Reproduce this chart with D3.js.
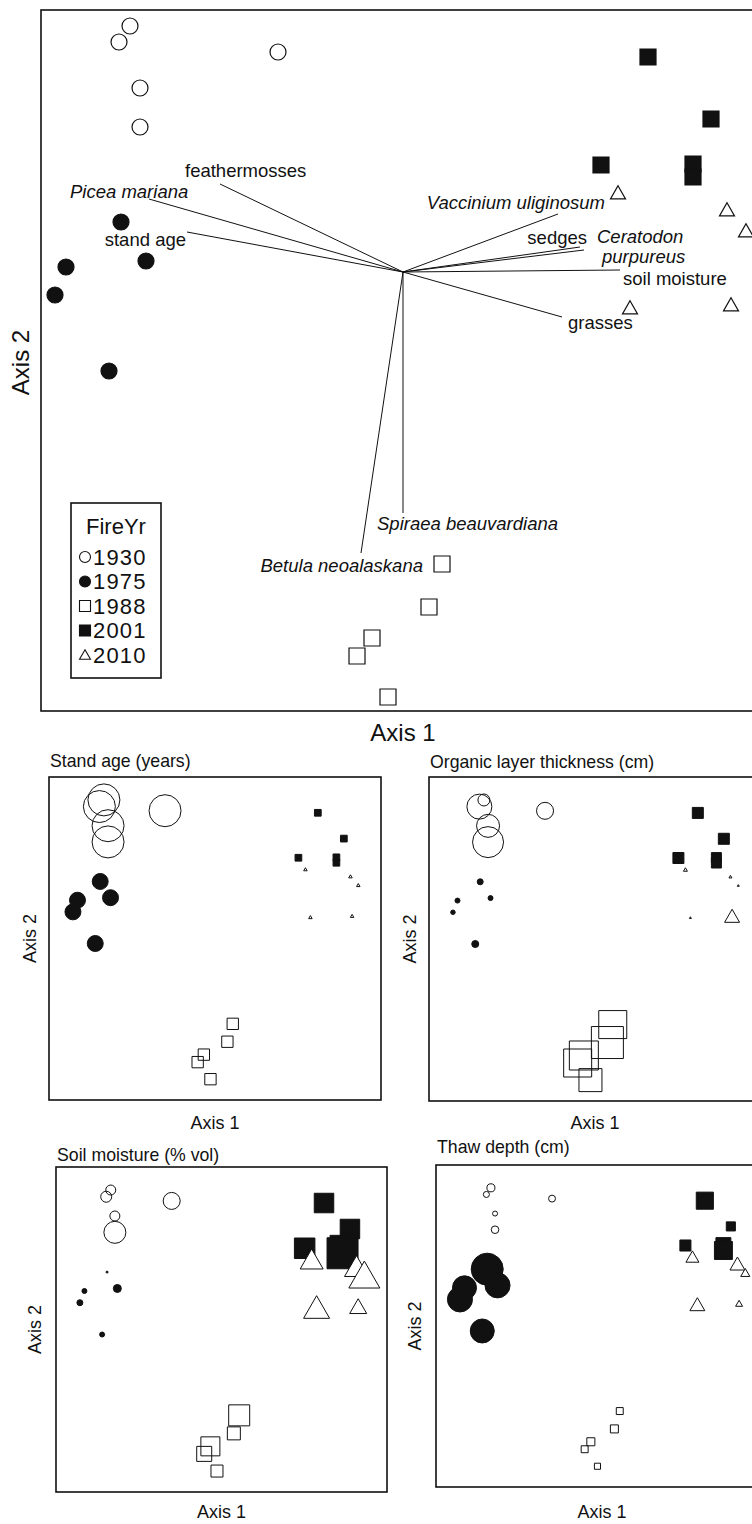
<!DOCTYPE html>
<html>
<head>
<meta charset="utf-8">
<script src="https://cdn.jsdelivr.net/npm/d3@7"></script>
<style>
  html, body { margin: 0; padding: 0; background: #fff; }
  svg { display: block; font-family: "Liberation Sans", Arial, Helvetica, sans-serif; }
</style>
</head>
<body>
<svg id="chart" width="752" height="1524"></svg>
<script>
// ---- Data -----------------------------------------------------------------

const fireYears = ["1930", "1975", "1988", "2001", "2010"];

// 25 plots, five per burn year
const plotFireYear = [
  "1930", "1930", "1930", "1930", "1930",
  "1975", "1975", "1975", "1975", "1975",
  "1988", "1988", "1988", "1988", "1988",
  "2001", "2001", "2001", "2001", "2001",
  "2010", "2010", "2010", "2010", "2010"
];

// NMS ordination scores of the plots
const axis1Scores = [
  -1.365, -1.42, -0.625, -1.315, -1.315,
  -1.41, -1.285, -1.685, -1.74, -1.47,
  0.195, 0.13, -0.155, -0.23, -0.075,
  1.225, 1.54, 0.99, 1.45, 1.45,
  1.075, 1.62, 1.715, 1.135, 1.64
];
const axis2Scores = [
  1.23, 1.15, 1.10, 0.92, 0.725,
  0.25, 0.055, 0.025, -0.115, -0.495,
  -1.46, -1.675, -1.83, -1.92, -2.125,
  1.075, 0.765, 0.535, 0.54, 0.475,
  0.395, 0.31, 0.205, -0.18, -0.165
];

// Joint-plot vectors (species and environmental variables)
const vectorNames = [
  "feathermosses", "Picea mariana", "stand age", "Vaccinium uliginosum",
  "sedges", "Ceratodon purpureus", "soil moisture", "grasses",
  "Spiraea beauvardiana", "Betula neoalaskana"
];
const vectorAxis1 = [-0.915, -1.27, -1.08, 0.775, 0.885, 0.905, 1.085, 0.795, 0.0, -0.21];
const vectorAxis2 = [0.44, 0.365, 0.20, 0.29, 0.125, 0.11, 0.01, -0.225, -1.205, -1.405];

// Plot-level environmental variables (same plot order as the scores)
const standAge = [
  82, 82, 82, 82, 82,
  37, 37, 37, 37, 37,
  24, 24, 24, 24, 24,
  11, 11, 11, 11, 11,
  2, 2, 2, 2, 2
];
const organicThickness = [
  12, 25, 17, 23, 31,
  6, 5, 5, 4.5, 7,
  28, 32, 29, 28, 23,
  11, 11, 11, 10, 10,
  4, 3, 2, 2, 15
];
const soilMoisture = [
  26, 28, 40, 26, 50,
  10, 22, 16, 18, 16,
  48, 32, 44, 36, 30,
  45, 45, 47, 56, 68,
  52, 54, 68, 58, 40
];
const thawDepth = [
  39, 30, 34, 25, 37,
  150, 118, 113, 118, 113,
  34, 39, 39, 34, 30,
  81, 44, 53, 71, 85,
  62, 71, 44, 71, 34
];

// ---- Drawing --------------------------------------------------------------

const svg = d3.select("#chart");
const ink = "#111";

const plots = plotFireYear.map((yr, i) => ({ yr, a1: axis1Scores[i], a2: axis2Scores[i], i }));

// symbol outline for a burn year, s = diameter / side / base width in px
function shapePath(yr, s) {
  const h = s / 2;
  if (yr === "1930" || yr === "1975") {
    return `M${h},0A${h},${h} 0 1,1 ${-h},0A${h},${h} 0 1,1 ${h},0Z`;
  }
  if (yr === "1988" || yr === "2001") {
    return `M${-h},${-h}H${h}V${h}H${-h}Z`;
  }
  const th = s * 0.87;
  return `M0,${-th * 0.55}L${h},${th * 0.45}L${-h},${th * 0.45}Z`;
}
const fillFor = { "1930": "none", "1975": ink, "1988": "none", "2001": ink, "2010": "#fff" };

// ---------- main ordination with joint plot ----------
const main = { left: 41, top: 10, right: 765, bottom: 711 };
const xMain = d3.scaleLinear().domain([-1.81, 1.81]).range([main.left, main.right]);
const yMain = d3.scaleLinear().domain([1.31, -2.195]).range([main.top, main.bottom]);

const gMain = svg.append("g");
gMain.append("rect")
  .attr("x", main.left).attr("y", main.top)
  .attr("width", main.right - main.left).attr("height", main.bottom - main.top)
  .attr("fill", "none").attr("stroke", ink).attr("stroke-width", 1.6);

const vectors = vectorNames.map((name, i) => ({ name, a1: vectorAxis1[i], a2: vectorAxis2[i] }));

gMain.selectAll("line.vec").data(vectors).join("line")
  .attr("class", "vec")
  .attr("x1", xMain(0)).attr("y1", yMain(0))
  .attr("x2", d => xMain(d.a1)).attr("y2", d => yMain(d.a2))
  .attr("stroke", ink).attr("stroke-width", 1);

const italicNames = new Set(["Picea mariana", "Vaccinium uliginosum", "Ceratodon purpureus",
  "Spiraea beauvardiana", "Betula neoalaskana"]);

// label offsets from each vector tip
const labelPlacement = {
  "feathermosses": { dx: -35, dy: -14, anchor: "start" },
  "Picea mariana": { dx: -79, dy: -8, anchor: "start" },
  "stand age": { dx: -1, dy: 7, anchor: "end" },
  "Vaccinium uliginosum": { dx: 47, dy: -12, anchor: "end" },
  "sedges": { dx: 7, dy: -10, anchor: "end" },
  "Ceratodon purpureus": { dx: 13, dy: -14, anchor: "start", lines: ["Ceratodon", "purpureus"], shift: [0, 5], lead: 20 },
  "soil moisture": { dx: 3, dy: 8, anchor: "start" },
  "grasses": { dx: 6, dy: 5, anchor: "start" },
  "Spiraea beauvardiana": { dx: -26, dy: 10, anchor: "start" },
  "Betula neoalaskana": { dx: 62, dy: 12, anchor: "end" }
};

vectors.forEach(v => {
  const p = labelPlacement[v.name];
  const x = xMain(v.a1) + p.dx, y = yMain(v.a2) + p.dy;
  const t = gMain.append("text")
    .attr("x", x).attr("y", y)
    .attr("text-anchor", p.anchor)
    .attr("dominant-baseline", "central")
    .attr("font-size", 18.5)
    .attr("font-style", italicNames.has(v.name) ? "italic" : "normal")
    .attr("fill", ink);
  if (p.lines) {
    p.lines.forEach((ln, k) => {
      t.append("tspan").attr("x", x + p.shift[k]).attr("y", y + k * p.lead).text(ln);
    });
  } else {
    t.text(v.name);
  }
});

gMain.selectAll("path.site").data(plots).join("path")
  .attr("class", "site")
  .attr("transform", d => `translate(${xMain(d.a1)},${yMain(d.a2)})`)
  .attr("d", d => shapePath(d.yr, d.yr === "2010" ? 15 : 16))
  .attr("fill", d => fillFor[d.yr])
  .attr("stroke", ink).attr("stroke-width", 1.2);

// axis titles
svg.append("text")
  .attr("x", (main.left + main.right) / 2).attr("y", 732)
  .attr("text-anchor", "middle").attr("dominant-baseline", "central")
  .attr("font-size", 24).attr("fill", ink).text("Axis 1");
svg.append("text")
  .attr("transform", `translate(20,${(main.top + main.bottom) / 2 + 2}) rotate(-90)`)
  .attr("text-anchor", "middle").attr("dominant-baseline", "central")
  .attr("font-size", 24).attr("fill", ink).text("Axis 2");

// legend
const legend = svg.append("g").attr("transform", "translate(71,503)");
legend.append("rect").attr("width", 90).attr("height", 175)
  .attr("fill", "#fff").attr("stroke", ink).attr("stroke-width", 1.6);
legend.append("text").attr("x", 45).attr("y", 23)
  .attr("text-anchor", "middle").attr("dominant-baseline", "central")
  .attr("font-size", 22).attr("fill", ink).text("FireYr");
const rows = legend.selectAll("g.row").data(fireYears).join("g")
  .attr("class", "row")
  .attr("transform", (d, i) => `translate(0,${54 + i * 24.5})`);
rows.append("path")
  .attr("transform", "translate(14,0)")
  .attr("d", d => shapePath(d, 11))
  .attr("fill", d => fillFor[d])
  .attr("stroke", ink).attr("stroke-width", 1.1);
rows.append("text")
  .attr("x", 22).attr("y", 0)
  .attr("dominant-baseline", "central")
  .attr("font-size", 22).attr("letter-spacing", 1.2).attr("fill", ink)
  .text(d => d);

// ---------- overlay panels: symbol size scaled by a plot variable ----------
const panels = [
  { title: "Stand age (years)", values: standAge, box: [49, 777, 332, 323], titleY: 767, axis1Y: 1123, axis2X: 30, sizes: [3.5, 32] },
  { title: "Organic layer thickness (cm)", values: organicThickness, box: [429, 777, 332, 324], titleY: 768, axis1Y: 1123, axis2X: 410, sizes: [2, 32] },
  { title: "Soil moisture (% vol)", values: soilMoisture, box: [56, 1167, 331, 325], titleY: 1161, axis1Y: 1512, axis2X: 35, sizes: [2, 31] },
  { title: "Thaw depth (cm)", values: thawDepth, box: [436, 1165, 332, 322], titleY: 1153, axis1Y: 1512, axis2X: 415, sizes: [5, 32] }
];

panels.forEach(pn => {
  const [bx, by, bw, bh] = pn.box;
  const x = d3.scaleLinear().domain([-2.03, 1.99]).range([bx, bx + bw]);
  const y = d3.scaleLinear().domain([1.505, -2.375]).range([by, by + bh]);
  const size = d3.scaleLinear().domain(d3.extent(pn.values)).range(pn.sizes);
  const g = svg.append("g");

  g.append("rect").attr("x", bx).attr("y", by).attr("width", bw).attr("height", bh)
    .attr("fill", "none").attr("stroke", ink).attr("stroke-width", 1.6);

  g.append("text").attr("x", bx + 1).attr("y", pn.titleY)
    .attr("font-size", 17.7).attr("fill", ink).text(pn.title);

  g.append("text").attr("x", bx + bw / 2).attr("y", pn.axis1Y)
    .attr("text-anchor", "middle").attr("dominant-baseline", "central")
    .attr("font-size", 18).attr("fill", ink).text("Axis 1");

  g.append("text")
    .attr("transform", `translate(${pn.axis2X},${by + bh / 2}) rotate(-90)`)
    .attr("text-anchor", "middle").attr("dominant-baseline", "central")
    .attr("font-size", 18).attr("fill", ink).text("Axis 2");

  g.selectAll("path.site").data(plots).join("path")
    .attr("class", "site")
    .attr("transform", d => `translate(${x(d.a1)},${y(d.a2)})`)
    .attr("d", d => shapePath(d.yr, size(pn.values[d.i])))
    .attr("fill", d => fillFor[d.yr])
    .attr("stroke", ink).attr("stroke-width", 1);
});
</script>
</body>
</html>
